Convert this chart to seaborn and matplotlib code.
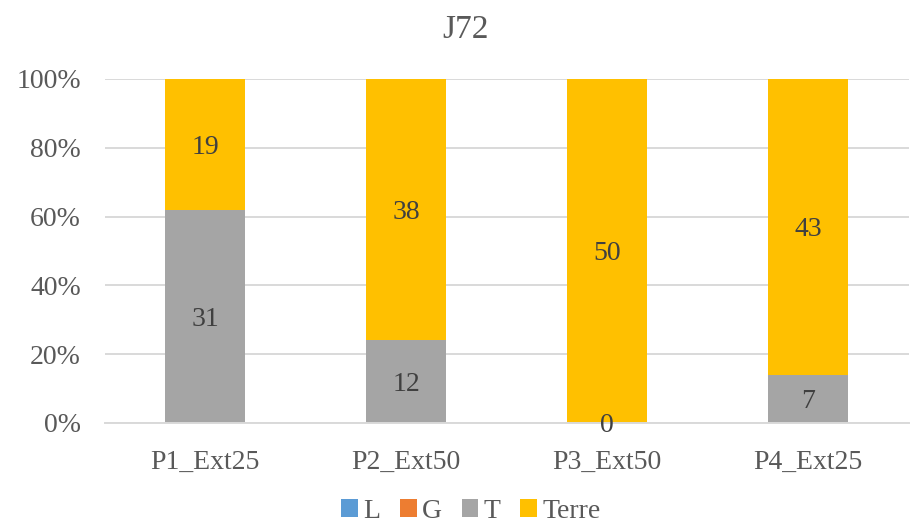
import numpy as np
import pandas as pd
import matplotlib
matplotlib.use("Agg")
import matplotlib.pyplot as plt
from matplotlib.patches import Patch
from matplotlib.ticker import PercentFormatter
import seaborn as sns

# Counts per sample and fraction
categories = ["P1_Ext25", "P2_Ext50", "P3_Ext50", "P4_Ext25"]
series = ["L", "G", "T", "Terre"]
L_vals = [0, 0, 0, 0]
G_vals = [0, 0, 0, 0]
T_vals = [31, 12, 0, 7]
Terre_vals = [19, 38, 50, 43]
colors = {"L": "#5B9BD5", "G": "#ED7D31", "T": "#A5A5A5", "Terre": "#FFC000"}
labelled = ["T", "Terre"]
title = "J72"

sns.set_theme(style="white")
plt.rcParams["font.family"] = ["Liberation Serif", "DejaVu Serif"]

counts = pd.DataFrame({"L": L_vals, "G": G_vals, "T": T_vals, "Terre": Terre_vals},
                      index=categories)
totals = counts.sum(axis=1)
share = counts.div(totals, axis=0) * 100
cum = share.cumsum(axis=1)

fig = plt.figure(figsize=(9.1, 5.25), dpi=100)
ax = fig.add_axes([104.5 / 910, 1 - 423 / 525, 804 / 910, 344 / 525])

# Stack by drawing cumulative heights from the top series downward
for name in reversed(series):
    df = pd.DataFrame({"cat": categories, "top": cum[name].values})
    sns.barplot(data=df, x="cat", y="top", color=colors[name], width=0.4,
                saturation=1, linewidth=0, ax=ax, zorder=2)

# Segment value labels
for name in labelled:
    for i, cat in enumerate(categories):
        top = cum.loc[cat, name]
        bottom = top - share.loc[cat, name]
        ax.text(i, (top + bottom) / 2, f"{counts.loc[cat, name]:d}",
                ha="center", va="center_baseline", fontsize=20, color="#404040",
                zorder=3)

ax.set_ylim(0, 100)
ax.set_xlim(-0.5, len(categories) - 0.5)
ax.set_yticks(np.arange(0, 101, 20))
ax.yaxis.set_major_formatter(PercentFormatter(decimals=0))
ax.grid(axis="y", color="#D9D9D9", linewidth=1.4, zorder=0)
ax.set_axisbelow(True)
for s in ["top", "right", "left"]:
    ax.spines[s].set_visible(False)
ax.spines["bottom"].set_color("#D9D9D9")
ax.spines["bottom"].set_linewidth(1.4)
ax.tick_params(axis="both", length=0, labelsize=20, labelcolor="#595959")
ax.tick_params(axis="y", pad=17)
ax.tick_params(axis="x", pad=19)
ax.set_xlabel("")
ax.set_ylabel("")

fig.text(466 / 910, 1 - 30 / 525, title, ha="center", va="center",
         fontsize=24, color="#595959")

handles = [Patch(facecolor=colors[n], edgecolor="none", label=n) for n in series]
fig.legend(handles=handles, loc="lower center", bbox_to_anchor=(471 / 910, 0.0),
           borderaxespad=0.0, borderpad=0.05,
           ncol=4, frameon=False, fontsize=20, handlelength=0.6, handleheight=0.6,
           handletextpad=0.2, columnspacing=0.7, labelcolor="#595959")

fig.savefig("out.png", dpi=100)
